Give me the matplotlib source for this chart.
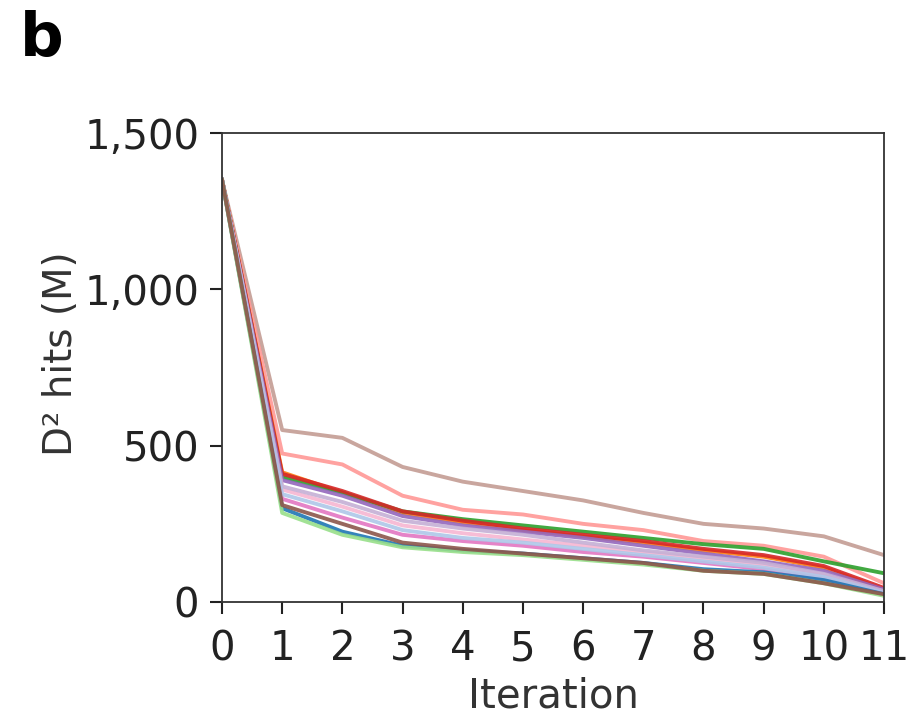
import matplotlib.pyplot as plt
from matplotlib.ticker import FuncFormatter

iterations = list(range(12))

# one curve per run, values in millions of D^2 hits
runs = {
    "#c49c94": [1350, 550, 525, 432, 385, 355, 325, 285, 250, 235, 210, 150],
    "#ff9896": [1350, 475, 440, 340, 295, 280, 250, 230, 195, 180, 145, 60],
    "#ff7f0e": [1350, 415, 350, 285, 255, 230, 210, 190, 165, 145, 110, 40],
    "#2ca02c": [1350, 400, 350, 290, 265, 245, 225, 205, 185, 170, 130, 92],
    "#d62728": [1350, 410, 355, 290, 260, 235, 215, 195, 170, 150, 115, 45],
    "#9467bd": [1350, 390, 340, 275, 245, 225, 205, 180, 155, 130, 100, 40],
    "#f7b6d2": [1350, 360, 305, 245, 220, 200, 180, 160, 140, 120, 85, 30],
    "#c5b0d5": [1350, 370, 320, 260, 235, 215, 190, 165, 145, 125, 90, 35],
    "#e377c2": [1350, 330, 270, 215, 195, 180, 160, 145, 125, 105, 75, 30],
    "#aec7e8": [1350, 345, 290, 230, 205, 190, 170, 150, 130, 110, 80, 30],
    "#1f77b4": [1350, 300, 225, 180, 165, 155, 140, 125, 105, 95, 70, 25],
    "#98df8a": [1350, 285, 215, 175, 160, 150, 135, 120, 100, 90, 60, 20],
    "#8c564b": [1350, 310, 250, 190, 170, 155, 140, 125, 100, 90, 60, 25],
}

fig = plt.figure(figsize=(9.11, 7.19), dpi=100)
ax = fig.add_axes([0.2437, 0.1627, 0.7267, 0.6523])

for color, vals in runs.items():
    ax.plot(iterations, vals, color=color, linewidth=2.8, alpha=0.9)

ax.set_xlim(0, 11)
ax.set_ylim(0, 1500)
ax.set_xticks(iterations)
ax.set_yticks([0, 500, 1000, 1500])
ax.yaxis.set_major_formatter(FuncFormatter(lambda v, p: f"{int(v):,}"))
ax.tick_params(labelsize=29, length=8.5, width=1.5, colors="#222222")
ax.tick_params(axis="x", pad=11)
ax.tick_params(axis="y", pad=8)
for s in ax.spines.values():
    s.set_linewidth(1.3)
    s.set_color("#333333")

ax.set_xlabel("Iteration", fontsize=29, color="#333333", labelpad=5)
ax.set_ylabel("D² hits (M)", fontsize=28, color="#333333")
ax.yaxis.set_label_coords(-0.215, 0.53)

fig.text(0.022, 0.922, "b", fontsize=44, fontweight="bold")

fig.savefig("out.png", dpi=100)
